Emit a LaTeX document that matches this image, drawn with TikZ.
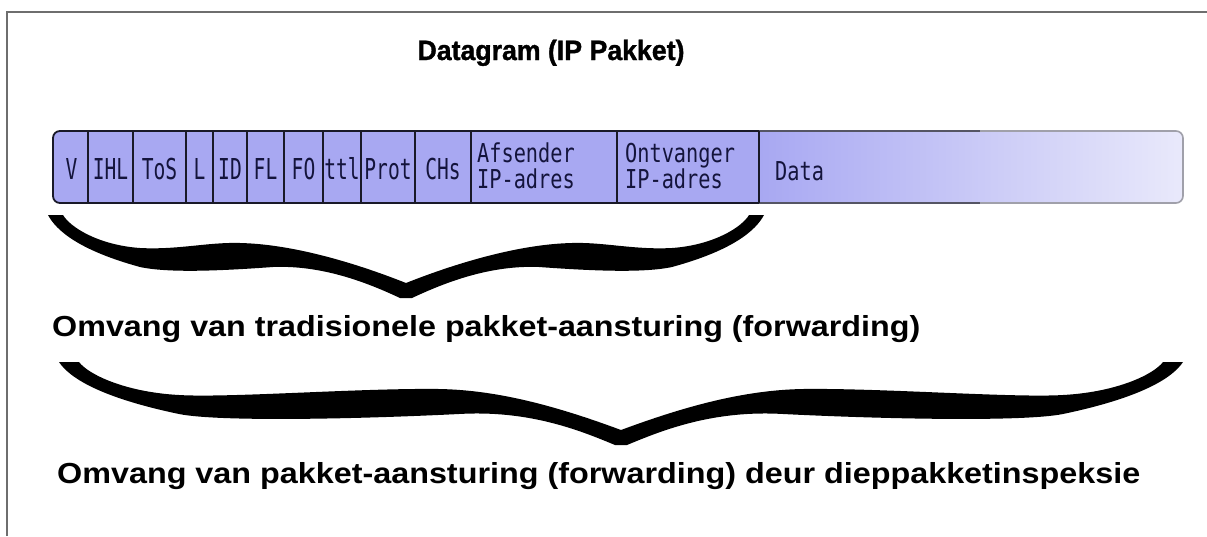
\documentclass[tikz,border=0pt]{standalone}
\usepackage{fontspec}
\usepackage{graphicx}
\setmainfont{Liberation Sans}
\newfontfamily\monof{DejaVu Sans Mono}
\newfontface\titleface[FakeBold=1.3]{Liberation Sans Bold}
\definecolor{fieldfill}{RGB}{168,168,242}
\definecolor{datalight}{RGB}{234,234,251}
\definecolor{barline}{RGB}{25,25,40}
\definecolor{datamid}{RGB}{85,85,100}
\definecolor{dataend}{RGB}{160,160,170}
\definecolor{framegray}{RGB}{110,110,110}
\definecolor{labeltext}{RGB}{20,20,60}
\tikzset{
  cbrace/.pic={
    \fill[black] (0,0) .. controls (8,15) and (30,35) .. (92,52)
      .. controls (120,58) and (170,56) .. (225,52)
      .. controls (275,50) and (320,68) .. (352,83)
      -- (364,83)
      .. controls (396,68) and (441,50) .. (491,52)
      .. controls (546,56) and (596,58) .. (624,52)
      .. controls (686,35) and (708,15) .. (716,0)
      -- (701,0)
      .. controls (694,12) and (666,30) .. (624,33)
      .. controls (586,35) and (556,27) .. (524,28)
      .. controls (476,29) and (416,45) .. (358,68)
      .. controls (300,45) and (240,29) .. (192,28)
      .. controls (160,27) and (130,35) .. (92,33)
      .. controls (50,30) and (22,12) .. (15,0) -- cycle;
  },
  widebrace/.pic={
    \fill[black] (0,0) .. controls (10,15) and (39,35) .. (120,52)
      .. controls (160,60) and (300,57) .. (400,52)
      .. controls (470,48) and (520,68) .. (556,83)
      -- (568,83)
      .. controls (604,68) and (654,48) .. (724,52)
      .. controls (824,57) and (964,60) .. (1004,52)
      .. controls (1085,35) and (1114,15) .. (1124,0)
      -- (1104,0)
      .. controls (1095,12) and (1059,30) .. (1004,33)
      .. controls (954,36) and (824,26) .. (744,27)
      .. controls (684,28) and (624,45) .. (562,68)
      .. controls (500,45) and (440,28) .. (380,27)
      .. controls (300,26) and (170,36) .. (120,33)
      .. controls (65,30) and (29,12) .. (20,0) -- cycle;
  },
  shortlbl/.style={font=\monof\fontsize{28.8}{28.8}\selectfont, text=labeltext,
    inner sep=0pt, anchor=base, xscale=0.68},
  longlbl/.style={font=\monof\fontsize{26}{26}\selectfont, text=labeltext,
    inner sep=0pt, anchor=base west, xscale=0.78},
  divider/.style={draw=barline, line width=1.8pt},
  caption/.style={font=\bfseries\fontsize{29}{29}\selectfont, inner sep=0pt, anchor=base west},
}
\begin{document}
\begin{tikzpicture}[x=1pt,y=-1pt]
\useasboundingbox (0,0) rectangle (1207,536);
\fill[white] (0,0) rectangle (1207,536);
% frame
\draw[framegray, line width=2pt] (7,536) -- (7,12) -- (1207,12);
% title
\node[font=\titleface\fontsize{28}{28}\selectfont, inner sep=0pt, anchor=base] (title) at (551,60)
  {\resizebox{267pt}{\height}{Datagram (IP Pakket)}};
% packet bar
\fill[fieldfill, rounded corners=7pt] (53,131) rectangle (1183,203);
\begin{scope}
  \clip[rounded corners=7pt] (53,131) rectangle (1183,203);
  \shade[left color=fieldfill, right color=datalight] (759,125) rectangle (1190,210);
\end{scope}
\begin{scope}
  \clip (40,120) rectangle (759,215);
  \draw[barline, line width=1.8pt, rounded corners=7pt] (53,131) rectangle (1183,203);
\end{scope}
\begin{scope}
  \clip (759,120) rectangle (980,215);
  \draw[datamid, line width=1.6pt, rounded corners=7pt] (53,131) rectangle (1183,203);
\end{scope}
\begin{scope}
  \clip (980,120) rectangle (1200,215);
  \draw[dataend, line width=1.6pt, rounded corners=7pt] (53,131) rectangle (1183,203);
\end{scope}
% dividers
\foreach \xx in {88,133,186,213,247,284,323,361,415,471,617,759}
  \draw[divider] (\xx,131) -- (\xx,203);
% labels
\node[shortlbl] (fv)    at (71.5,179) {V};
\node[shortlbl] (fihl)  at (110.5,179) {IHL};
\node[shortlbl] (ftos)  at (159.5,179) {ToS};
\node[shortlbl] (fl)    at (199.5,179) {L};
\node[shortlbl] (fid)   at (230,179) {ID};
\node[shortlbl] (ffl)   at (265.5,179) {FL};
\node[shortlbl] (ffo)   at (303.5,179) {FO};
\node[shortlbl] (fttl)  at (342,179) {ttl};
\node[shortlbl] (fprot) at (388,179) {Prot};
\node[shortlbl] (fchs)  at (443,179) {CHs};
\node[longlbl] (fsrc1) at (477,162) {Afsender};
\node[longlbl] (fsrc2) at (477,188) {IP-adres};
\node[longlbl] (fdst1) at (625,162) {Ontvanger};
\node[longlbl] (fdst2) at (625,188) {IP-adres};
\node[longlbl] (fdata) at (775,180) {Data};
% braces
\pic at (48,215) {cbrace};
\pic at (59,362) {widebrace};
% captions
\node[caption] (cap1) at (52,336)
  {\resizebox{868pt}{\height}{Omvang van tradisionele pakket-aansturing (forwarding)}};
\node[caption] (cap2) at (57,483)
  {\resizebox{1083pt}{\height}{Omvang van pakket-aansturing (forwarding) deur dieppakketinspeksie}};
\end{tikzpicture}
\end{document}
